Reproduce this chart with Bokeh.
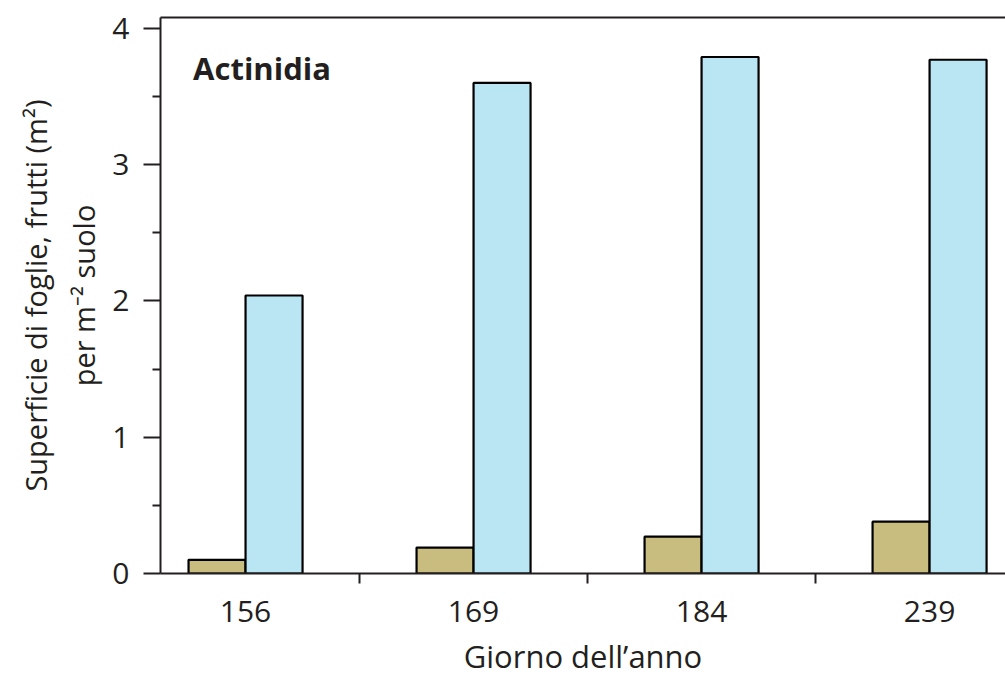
from bokeh.plotting import figure
from bokeh.models import LinearAxis, FixedTicker, Range1d, Label
from bokeh.embed import file_html
from bokeh.resources import INLINE

days = ["156", "169", "184", "239"]
frutti = [0.10, 0.19, 0.27, 0.38]
foglie = [2.04, 3.60, 3.79, 3.77]

TAN = "#c8bd7e"
BLUE = "#bae6f4"
INK = "#231f20"
FONT = "Open Sans"

xs = list(range(len(days)))
p = figure(width=1005, height=685, frame_width=845, frame_height=556,
           output_backend="svg", toolbar_location=None,
           x_range=Range1d(-0.373, 3.333), y_range=Range1d(0, 4.08),
           min_border_left=160, min_border_right=0, min_border_top=17,
           min_border_bottom=111)
p.outline_line_color = None
p.grid.visible = False
p.background_fill_color = "white"
p.border_fill_color = "white"

w = 0.25
p.vbar(x=[x - w / 2 for x in xs], top=frutti, width=w, bottom=0,
       fill_color=TAN, line_color="black", line_width=2.2)
p.vbar(x=[x + w / 2 for x in xs], top=foglie, width=w, bottom=0,
       fill_color=BLUE, line_color="black", line_width=2.2)

# x axis
xa = p.xaxis[0]
xa.ticker = FixedTicker(ticks=xs, minor_ticks=[x + 0.5 for x in xs[:-1]])
xa.major_label_overrides = {x: d for x, d in zip(xs, days)}
xa.major_tick_out = 0
xa.major_tick_in = 0
xa.minor_tick_out = 10
xa.minor_tick_in = 0
xa.minor_tick_line_width = 2
xa.minor_tick_line_color = INK
xa.axis_line_width = 2
xa.axis_line_color = INK
xa.major_label_standoff = 17
xa.major_label_text_font = FONT
xa.major_label_text_font_size = "30px"
xa.major_label_text_color = INK
xa.axis_label = "Giorno dell\u2019anno"
xa.axis_label_standoff = 10
xa.axis_label_text_font = FONT
xa.axis_label_text_font_size = "31px"
xa.axis_label_text_font_style = "normal"
xa.axis_label_text_color = INK

# y axis
ya = p.yaxis[0]
ya.ticker = FixedTicker(ticks=[0, 1, 2, 3, 4], minor_ticks=[0.5, 1.5, 2.5, 3.5])
ya.major_tick_out = 17
ya.major_tick_in = 0
ya.minor_tick_out = 8
ya.minor_tick_in = 0
ya.major_tick_line_width = 2
ya.minor_tick_line_width = 2
ya.major_tick_line_color = INK
ya.minor_tick_line_color = INK
ya.axis_line_width = 2
ya.axis_line_color = INK
ya.major_label_standoff = 14
ya.major_label_text_font = FONT
ya.major_label_text_font_size = "30px"
ya.major_label_text_color = INK
ya.axis_label = "Superficie di foglie, frutti (m\u00b2)\nper m\u207b\u00b2 suolo"
ya.axis_label_standoff = 6
ya.axis_label_text_font = FONT
ya.axis_label_text_font_size = "29px"
ya.axis_label_text_font_style = "normal"
ya.axis_label_text_color = INK
ya.axis_label_text_line_height = 1.25

# top border line
top = LinearAxis(ticker=FixedTicker(ticks=[]), major_tick_out=0, major_tick_in=0,
                 minor_tick_out=0, minor_tick_in=0, major_label_text_font_size="0px",
                 axis_line_width=2, axis_line_color=INK, major_label_standoff=0)
p.add_layout(top, "above")

p.add_layout(Label(x=-0.23, y=3.71, text="Actinidia", text_font=FONT,
                   text_font_size="31px", text_font_style="bold", text_color=INK,
                   text_baseline="middle"))

open("out.html", "w").write(file_html(p, INLINE))
